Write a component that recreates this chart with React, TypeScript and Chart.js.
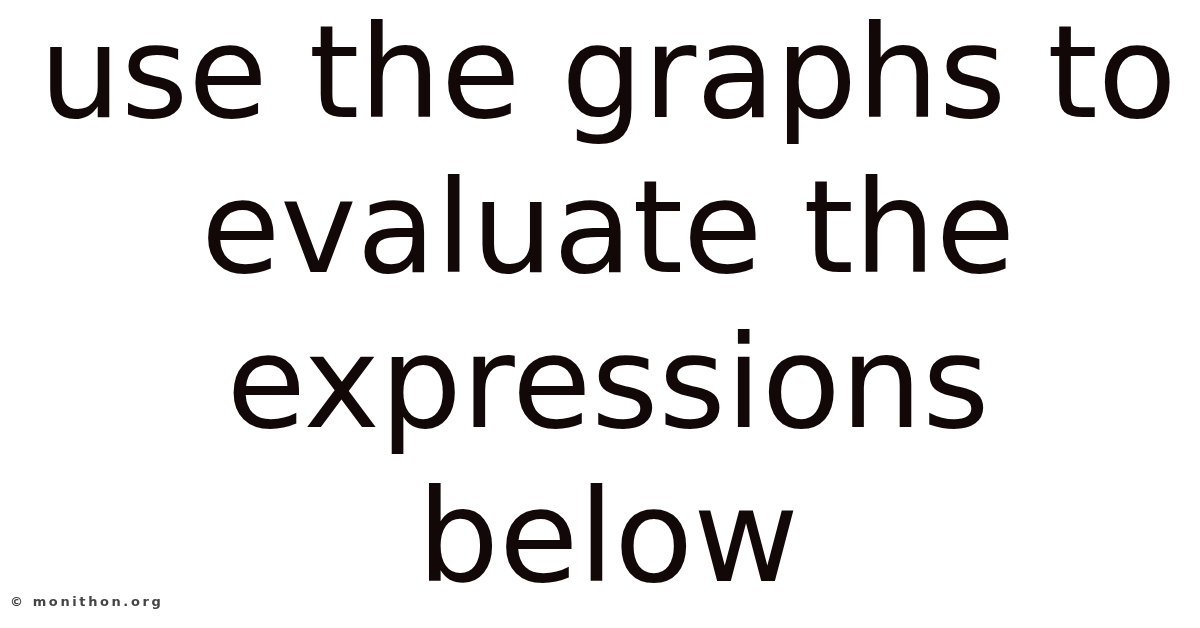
import { useEffect, useRef } from 'react';
import { Chart, registerables } from 'chart.js';

Chart.register(...registerables);

const TITLE_LINES = ['use the graphs to', 'evaluate the', 'expressions', 'below'];
const WATERMARK = '© monithon.org';
const LABELS: string[] = [];
const VALUES: number[] = [];

const watermarkPlugin = {
  id: 'watermark',
  afterDraw(chart) {
    const ctx = chart.ctx;
    ctx.save();
    ctx.font = 'bold 13px "DejaVu Sans"';
    ctx.fillStyle = '#444444';
    ctx.textBaseline = 'alphabetic';
    ctx.textAlign = 'left';
    (ctx as any).letterSpacing = '2.6px';
    ctx.fillText(WATERMARK, 10, 606);
    ctx.restore();
  },
};

export default function App() {
  const canvasRef = useRef(null);
  const chartRef = useRef(null);

  useEffect(() => {
    if (chartRef.current) chartRef.current.destroy();

    chartRef.current = new Chart(canvasRef.current, {
      type: 'bar',
      data: {
        labels: LABELS,
        datasets: [{ data: VALUES, backgroundColor: '#120808' }],
      },
      options: {
        animation: false,
        responsive: true,
        maintainAspectRatio: false,
        layout: { padding: { left: 16, right: 0, top: 0, bottom: 0 } },
        scales: {
          x: { display: false },
          y: { display: false },
        },
        plugins: {
          legend: { display: false },
          tooltip: { enabled: false },
          title: {
            display: true,
            text: TITLE_LINES,
            color: '#120808',
            font: { family: 'DejaVu Sans', size: 129, weight: 'normal', lineHeight: 1.2 },
            padding: { top: 6, bottom: 0 },
          },
        },
      },
      plugins: [watermarkPlugin],
    });

    return () => { if (chartRef.current) chartRef.current.destroy(); };
  }, []);

  return (
    <div style={{ position: 'fixed', left: 0, top: 0, width: 1200, height: 628, background: '#ffffff' }}>
      <canvas ref={canvasRef} />
    </div>
  );
}
